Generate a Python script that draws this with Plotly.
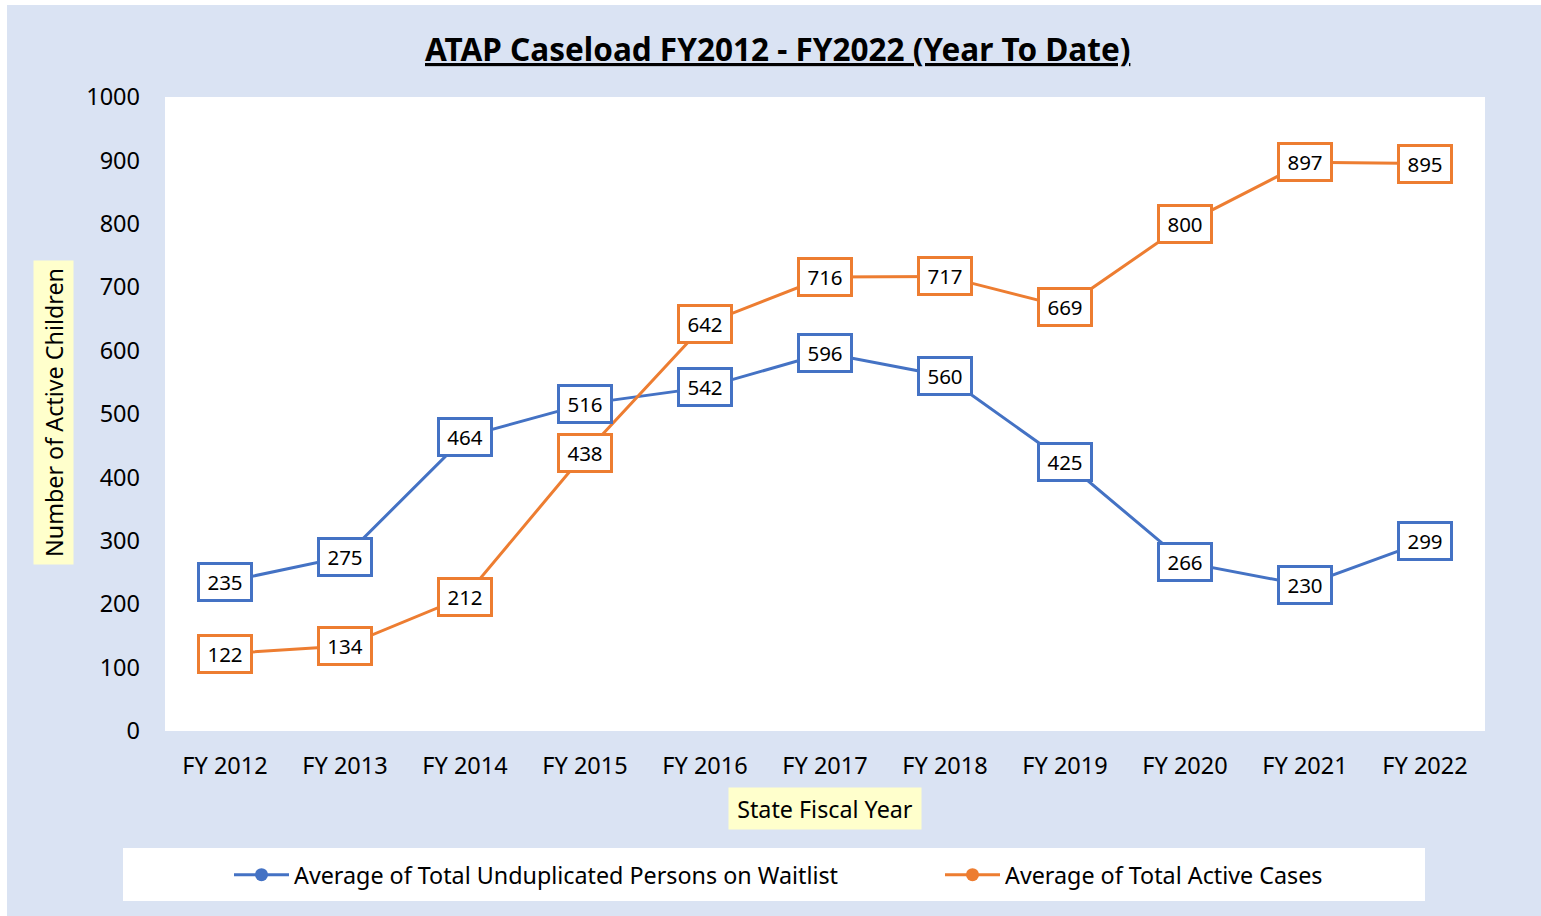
import plotly.graph_objects as go

years = ["FY 2012", "FY 2013", "FY 2014", "FY 2015", "FY 2016", "FY 2017",
         "FY 2018", "FY 2019", "FY 2020", "FY 2021", "FY 2022"]
waitlist = [235, 275, 464, 516, 542, 596, 560, 425, 266, 230, 299]
active = [122, 134, 212, 438, 642, 716, 717, 669, 800, 897, 895]
name_wait = "Average of Total Unduplicated Persons on Waitlist"
name_active = "Average of Total Active Cases"

BLUE = "#4472c4"
ORANGE = "#ed7d31"
BG = "#dae3f3"
FONT = "Noto Sans"

W, H = 1541, 916
L, R, T, B = 165, 56, 97, 185
PW, PH = W - L - R, H - T - B

def px_x(p):
    return (p - L) / PW

def px_y(p):
    return (H - B - p) / PH

fig = go.Figure()
fig.add_trace(go.Scatter(x=years, y=waitlist, mode="lines+markers", name=name_wait,
                         line=dict(color=BLUE, width=3), marker=dict(size=13, color=BLUE),
                         legend="legend"))
fig.add_trace(go.Scatter(x=years, y=active, mode="lines+markers", name=name_active,
                         line=dict(color=ORANGE, width=3), marker=dict(size=13, color=ORANGE),
                         legend="legend2"))

annotations = []
for series, color in ((waitlist, BLUE), (active, ORANGE)):
    for xv, yv in zip(years, series):
        annotations.append(dict(x=xv, y=yv, xref="x", yref="y", text=str(yv),
                                showarrow=False, font=dict(family=FONT, size=20.5, color="black"),
                                bgcolor="white", bordercolor=color, borderwidth=3,
                                borderpad=2, width=46, height=30))

annotations.append(dict(text="Number of Active Children", textangle=-90, xref="paper", yref="paper",
                        x=px_x(53), y=px_y(413), xanchor="center", yanchor="middle",
                        showarrow=False, bgcolor="#ffffcc", width=295, height=31,
                        font=dict(family=FONT, size=23.3, color="black"), borderpad=4))
annotations.append(dict(text="State Fiscal Year", xref="paper", yref="paper",
                        x=px_x(825), y=px_y(809), xanchor="center", yanchor="middle",
                        showarrow=False, bgcolor="#ffffcc", width=184, height=33,
                        font=dict(family=FONT, size=23.3, color="black"), borderpad=4))
annotations.append(dict(text="<b><u>ATAP Caseload FY2012 - FY2022 (Year To Date)</u></b>",
                        xref="paper", yref="paper", x=px_x(777), y=px_y(48),
                        xanchor="center", yanchor="middle", showarrow=False,
                        font=dict(family=FONT, size=31.5, color="black")))

shapes = [
    dict(type="rect", xref="paper", yref="paper", layer="below",
         x0=px_x(7), x1=px_x(1545), y0=px_y(920), y1=px_y(5),
         fillcolor=BG, line=dict(width=0)),
    dict(type="rect", xref="paper", yref="paper", layer="below",
         x0=px_x(165), x1=px_x(1485), y0=px_y(731), y1=px_y(97),
         fillcolor="white", line=dict(width=0)),
    dict(type="rect", xref="paper", yref="paper", layer="below",
         x0=px_x(123), x1=px_x(1425), y0=px_y(901), y1=px_y(848),
         fillcolor="white", line=dict(width=0)),
]

leg_font = dict(family=FONT, size=23.3, color="black")
fig.update_layout(
    width=W, height=H,
    margin=dict(l=L, r=R, t=T, b=B),
    paper_bgcolor="white",
    plot_bgcolor="rgba(0,0,0,0)",
    showlegend=True,
    legend=dict(x=px_x(229), y=px_y(875), xanchor="left", yanchor="middle", itemwidth=55,
                bgcolor="rgba(0,0,0,0)", font=leg_font, orientation="h"),
    legend2=dict(x=px_x(940), y=px_y(875), xanchor="left", yanchor="middle", itemwidth=55,
                 bgcolor="rgba(0,0,0,0)", font=leg_font, orientation="h"),
    xaxis=dict(range=[-0.5, len(years) - 0.5], showgrid=False, zeroline=False, showline=False,
               ticks="", tickfont=dict(family=FONT, size=23.5, color="black"), ticklabelstandoff=18),
    yaxis=dict(range=[0, 1000], dtick=100, showgrid=False, zeroline=False, showline=False,
               ticks="", tickfont=dict(family=FONT, size=23.5, color="black"), ticklabelstandoff=24),
    annotations=annotations,
    shapes=shapes,
)

fig.write_html("out.html", config={"displayModeBar": False},
               post_script="document.body.style.margin='0px';document.body.style.overflow='hidden';")
